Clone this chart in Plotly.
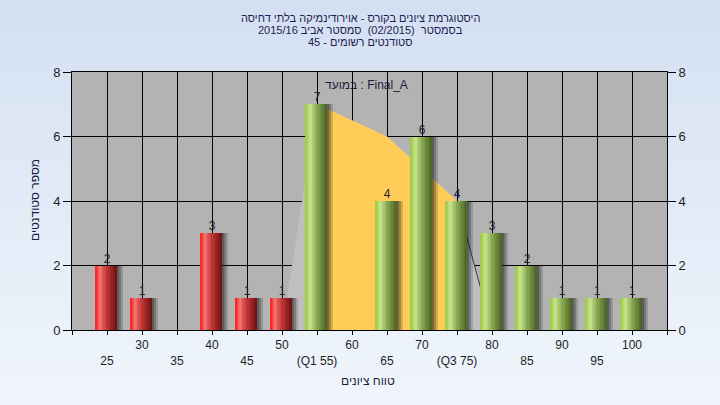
import plotly.graph_objects as go

# ---------------- data ----------------
categories = [25, 30, 35, 40, 45, 50, 55, 60, 65, 70, 75, 80, 85, 90, 95, 100]
counts = [2, 1, 0, 3, 1, 1, 7, 0, 4, 6, 4, 3, 2, 1, 1, 1]
tick_labels = ["25", "30", "35", "40", "45", "50", "(Q1 55)", "60", "65", "70",
               "(Q3 75)", "80", "85", "90", "95", "100"]
q1_value = 55
dist_x = [50, 55, 65, 75, 80]
dist_y = [0, 7, 6, 4, 0]
iqr_x = [55, 65, 75]
iqr_y = [7, 6, 4]
tail_x = [75, 80]
tail_y = [4, 0]
title_lines = [
    "היסטוגרמת ציונים בקורס - אוירודינמיקה בלתי דחיסה",
    "בסמסטר  (02/2015)  סמסטר אביב 2015/16",
    "סטודנטים רשומים - 45",
]
legend_text = "במועד : Final_A"
x_title = "טווח ציונים"
y_title = "מספר סטודנטים"

# ---------------- helpers ----------------
def hex2rgb(h):
    h = h.lstrip("#")
    return tuple(int(h[i:i + 2], 16) for i in (0, 2, 4))

def interp(stops, t):
    for (p0, c0), (p1, c1) in zip(stops, stops[1:]):
        if p0 <= t <= p1:
            f = (t - p0) / (p1 - p0) if p1 > p0 else 0
            a, b = hex2rgb(c0), hex2rgb(c1)
            return "rgb(%d,%d,%d)" % tuple(round(a[i] + (b[i] - a[i]) * f) for i in range(3))
    return stops[-1][1]

red_stops = [(0, "#ff1c1c"), (0.22, "#f27272"), (0.5, "#c83a3a"), (1, "#6e1010")]
green_stops = [(0, "#9acb40"), (0.25, "#c8e48e"), (0.5, "#90b058"), (1, "#4a6324")]

fig = go.Figure()

# distribution shape (main subplot, drawn underneath)
fig.add_trace(go.Scatter(x=dist_x, y=dist_y, fill="toself", fillcolor="#bfbfbf",
                         mode="lines", line=dict(width=0), hoverinfo="skip", showlegend=False))
fig.add_trace(go.Scatter(x=iqr_x, y=iqr_y, fill="tozeroy", fillcolor="#ffcc58",
                         mode="lines", line=dict(width=0), hoverinfo="skip", showlegend=False))
fig.add_trace(go.Scatter(x=tail_x, y=tail_y, mode="lines", line=dict(color="#3a3a3a", width=1),
                         hoverinfo="skip", showlegend=False))

W = 3.0
start = -1.65
# shadows (overlay subplot, above the shape)
for dx, a in [(0.3, 0.3), (0.6, 0.25), (0.95, 0.18)]:
    fig.add_trace(go.Bar(x=categories, y=counts, yaxis="y2", width=W, offset=start + dx,
                         marker=dict(color="rgba(25,25,25,%.2f)" % a, line=dict(width=0)),
                         hoverinfo="skip", showlegend=False))

# gradient cylinder bars
N = 16
for k in range(N):
    t = (k + 0.5) / N
    cols = [interp(red_stops if c < q1_value else green_stops, t) for c in categories]
    fig.add_trace(go.Bar(x=categories, y=counts, yaxis="y2", width=W / N + 0.03,
                         offset=start + k * W / N,
                         marker=dict(color=cols, line=dict(width=0)),
                         hoverinfo="skip", showlegend=False))

# value labels
fig.add_trace(go.Scatter(x=categories, y=counts, yaxis="y2", mode="text",
                         text=[str(c) if c else "" for c in counts],
                         textposition="top center",
                         textfont=dict(size=12, color="#1e1e2a", family="Liberation Sans, DejaVu Sans"),
                         hoverinfo="skip", showlegend=False))

tickvals = [20] + categories + [105]
ticktext = [""] + [(lab if i % 2 else "<br>" + lab) for i, lab in enumerate(tick_labels)] + [""]

font_main = "Liberation Sans, DejaVu Sans, sans-serif"

# background gradient bands
shapes = []
nb = 27
top_c, bot_c = "#d4e0f2", "#f0f5fc"
ph = 258.0
for i in range(nb):
    y0 = 1 + 72 / ph - i * (405 / nb) / ph
    y1 = y0 - (405 / nb) / ph
    shapes.append(dict(type="rect", xref="paper", yref="paper", x0=-0.2, x1=1.2, y0=y1 - 0.002, y1=y0,
                       fillcolor=interp([(0, top_c), (1, bot_c)], i / (nb - 1)),
                       line=dict(width=0), layer="below"))
shapes.append(dict(type="rect", xref="paper", yref="paper", x0=0, x1=1, y0=0, y1=1,
                   fillcolor="#b3b3b3", line=dict(width=0), layer="below"))

annotations = []
for line, ypx in zip(title_lines, [18, 30, 42]):
    annotations.append(dict(text=line, xref="paper", yref="paper", x=(360 - 72) / 595,
                            y=(330 - ypx) / ph, showarrow=False, xanchor="center",
                            yanchor="middle", font=dict(size=11, color="#1c1c50", family=font_main)))
annotations.append(dict(text=legend_text, x=62.0, y=7.6, xref="x", yref="y", showarrow=False,
                        font=dict(size=12, color="#1c1c40", family=font_main)))
annotations.append(dict(text=x_title, xref="paper", yref="paper", x=(368 - 72) / 595,
                        y=(330 - 381) / ph, showarrow=False, yanchor="middle",
                        font=dict(size=12, color="#1c1c40", family=font_main)))
annotations.append(dict(text=y_title, xref="paper", yref="paper", x=(35 - 72) / 595,
                        y=(330 - 200) / ph, showarrow=False, textangle=-90,
                        xanchor="center", yanchor="middle",
                        font=dict(size=12, color="#1c1c40", family=font_main)))

fig.update_layout(
    width=720, height=405,
    margin=dict(l=72, r=53, t=72, b=75),
    paper_bgcolor="#e3ebf7",
    plot_bgcolor="rgba(0,0,0,0)",
    barmode="overlay",
    bargap=0,
    showlegend=False,
    hovermode=False,
    shapes=shapes,
    annotations=annotations,
    font=dict(family=font_main, size=12, color="#1e1e1e"),
    xaxis=dict(range=[20, 105], tickmode="array", tickvals=tickvals, ticktext=ticktext,
               showgrid=True, gridcolor="#000000", gridwidth=1, zeroline=False,
               showline=True, linecolor="#000000", linewidth=1, mirror=True,
               ticks="outside", ticklen=4, tickcolor="#000000", automargin=False,
               tickfont=dict(size=12, color="#1e1e1e"), fixedrange=True),
    yaxis=dict(range=[0, 8], dtick=2, showgrid=True, gridcolor="#000000", gridwidth=1,
               zeroline=False, showline=True, linecolor="#000000", linewidth=1,
               ticks="outside", ticklen=8, tickcolor="#000000", automargin=False,
               tickfont=dict(size=13, color="#1e1e1e"), fixedrange=True),
    yaxis2=dict(range=[0, 8], dtick=2, overlaying="y", side="right", showgrid=False,
                zeroline=False, showline=True, linecolor="#000000", linewidth=1,
                ticks="outside", ticklen=8, tickcolor="#000000", automargin=False,
                tickfont=dict(size=13, color="#1e1e1e"), fixedrange=True),
)

fig.write_html("out.html", config={"displayModeBar": False, "staticPlot": True},
               post_script="document.body.style.margin='0';")
